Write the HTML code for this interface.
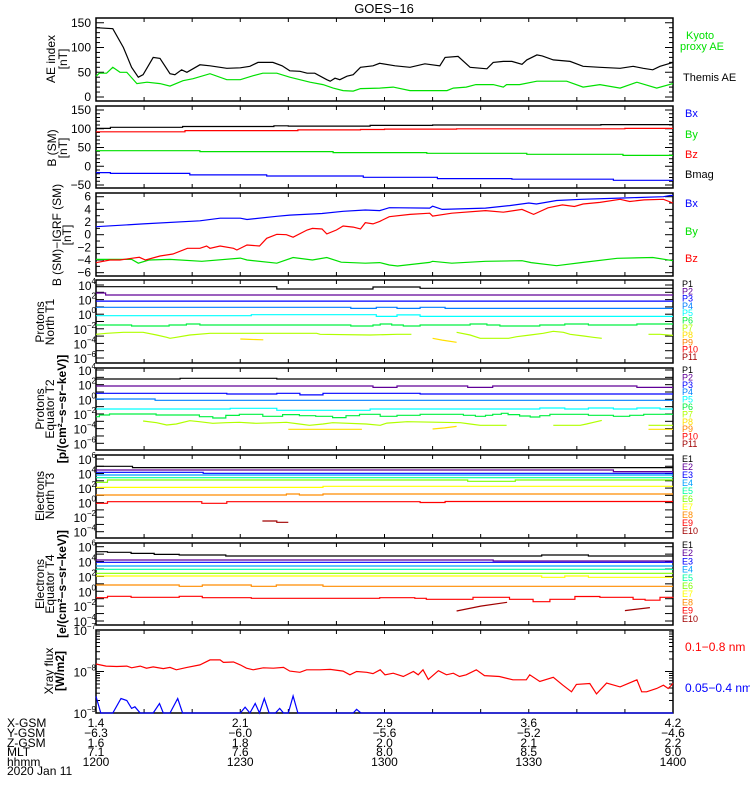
<!DOCTYPE html>
<html><head><meta charset="utf-8"><title>GOES-16</title>
<style>
html,body{margin:0;padding:0;background:#fff;}
svg{display:block;font-family:"Liberation Sans",sans-serif;}
</style></head>
<body>
<svg id="chart" width="750" height="800" viewBox="0 0 750 800" xmlns="http://www.w3.org/2000/svg">
<rect x="0" y="0" width="750" height="800" fill="#fff"/>
<text x="384" y="13" font-size="13" text-anchor="middle">GOES−16</text>
<g id="layer"></g>
</svg>
<script>
// ---------- data ----------
const aeTime=[0,3.5,5.7,7.4,8.8,9.8,11.9,13.3,15.4,16.4,17.8,18.9,21.6,23.7,25.8,27.2,30,32,33.7,36.8,38.7,40.3,42.4,43.9,45.5,48,48.7,49.7,50.7,52.2,53.5,55,57.6,59,62.2,65.3,68.4,71.5,72.6,75.3,77.8,81.3,82.6,84.7,86.5,88.6,89.6,91.7,92.8,95.1,98.6,101.3,104.8,109,111.7,113.8,115.8,117.3,120];
const themisAE=[140,138,100,60,40,45,80,78,47,45,55,50,65,63,60,58,59,62,70,70,63,53,52,48,48,35,32,38,35,42,45,60,63,68,63,60,67,63,80,82,60,57,70,72,72,66,75,85,83,75,72,62,60,58,62,58,55,62,70];
const kyotoTime=[0,0.7,2.2,3.5,5,6.4,8.5,10.6,13.3,15.4,18.1,20.2,23.7,27.2,30,32.7,34.7,37.6,40.3,44.5,47.2,49.3,51.4,53.5,55,59,61.8,65.3,73,74.3,77,79,82.6,84.7,85.4,88.1,91.7,97.9,101.3,104.8,109,112.5,116.6,120];
const kyotoAE=[42,48,48,60,50,50,27,30,27,22,33,37,47,35,35,43,48,48,40,30,25,18,13,12,17,18,20,13,13,18,20,25,25,20,25,25,32,32,20,25,18,30,18,27];

const bmagTime=[0,3,18,37,40,57,70,105,120];
const bmagVal=[101,104,106,108,107,109,110,111,111];
const bzSmTime=[0,18.5,42,55,60,75,110,120];
const bzSmVal=[92,95,97,98,99,100,101,101];
const bySmTime=[0,21.6,49.3,68.8,89.6,109.6,120];
const bySmVal=[41.5,39,36.5,34.5,32,29,29];
const bxSmTime=[0,3,19.5,35.5,55.6,71,86.5,107.6,120];
const bxSmVal=[-17,-19,-23,-26,-29.5,-33,-34.5,-37.5,-37.5];

const igBxTime=[0,9.8,21.6,25.8,30,31.4,37.6,40.3,47,51.4,56,59,61,69.4,70,72,81,86,90,91.6,95.8,101,109.6,118,119.4,120];
const igBxVal=[1.26,1.7,2.2,2.6,2.6,2.4,2.9,3.1,3.35,3.7,3.9,3.8,4.27,4.2,4.5,4.0,4.2,4.6,5.0,4.85,5.4,5.6,5.8,6.0,6.2,6.2];
const igBzTime=[0,2.9,5,7.4,9,10.3,13.3,16,19,21.6,23,23.7,25.8,28.6,29.3,31.4,34,35.5,37.6,39.6,41,43.9,45,47,48,50,51.4,53.5,55,56,57.6,59,61,65.3,69.4,70,74,81,84.7,88.6,91,94,97,99.5,101.3,104.8,109,111,114,118,120];
const igBzVal=[-4.42,-4.0,-4.0,-3.73,-3.57,-4.0,-3.36,-3.05,-2.15,-2.15,-1.79,-2.15,-1.79,-2.15,-2.42,-1.63,-1.79,-0.57,0.06,0,-0.4,0.74,0.99,0.9,0.12,0.74,1.37,1.2,0.9,1.9,1.7,2.1,2.84,3.2,3.4,2.94,3.4,3.8,3.55,4.0,3.2,4.25,4.7,4.45,4.85,5.1,5.6,5.25,5.5,5.6,5.0];
const igByTime=[0,7.4,8.8,11,15.4,22,30,31.4,37.6,41,45,48,51,56,59,61,62.7,69.4,70,74,81,88.6,90.5,95.8,101.3,108.4,115.8,120];
const igByVal=[-3.9,-3.9,-4.5,-4.0,-3.9,-4.2,-3.7,-4.0,-4.5,-3.6,-4.0,-3.6,-4.35,-4.5,-4.4,-4.79,-4.95,-4.37,-4.2,-4.5,-4.2,-4.1,-4.4,-4.9,-4.37,-3.73,-3.6,-4.1];

// Protons North T1 (log10 flux)
const t1p1Time=[0,37.6,57.6,67.4,120], t1p1Val=[3.77,3.45,3.73,3.55,3.55];
const t1p2Time=[0,2,120], t1p2Val=[2.9,2.63,2.63];
const t1p3Time=[0,120], t1p3Val=[1.8,1.8];
const t1p4Time=[0,53,58.3,62.6,67.4,72.6,120], t1p4Val=[0.95,0.8,0.95,0.8,0.95,0.8,0.8];
const t1p5Time=[0,32.3,58.3,62.6,67.4,120], t1p5Val=[-0.2,-0.07,-0.3,-0.1,-0.3,-0.3];
const t1p6Time=[0,7.4,15.2,18.8,21.6,53,57.6,59.1,61.5,63.9,67.4,77.8,81.3,84,92.3,97.5,102.4,112.5,120];
const t1p6Val=[-1.48,-1.62,-1.48,-1.34,-1.48,-1.62,-1.48,-1.34,-1.48,-1.62,-1.48,-1.34,-1.48,-1.62,-1.48,-1.34,-1.48,-1.34,-1.34];
const t1p7Time=[0,2.2,5.7,9.8,12.6,14.7,15.4,16.7,19.5,23.7,45.9,46.6,57,62.6,65.6,70,75,77.8,79.9,85.8,87.5,90.3,93,95.1,97.2,98.6,101.4,103.4,105.2,110,114.9,117.3,120];
const t1p7Val=[-2.76,-2.62,-2.48,-2.48,-2.85,-3.17,-3.3,-3.17,-2.85,-2.62,-2.62,-2.76,-2.85,-2.76,-2.76,null,-2.48,-2.85,-3.3,-3.3,-3.08,-2.85,-2.62,-2.34,-2.48,-2.76,-2.99,-3.17,-3.3,null,-2.76,-2.76,-2.9];
const t1p8Time=[30,32,34.8,50,70,72,75], t1p8Val=[-3.4,-3.45,-3.5,null,-3.3,-3.55,-3.85];

// Protons Equator T2
const t2p1Time=[0,17.5,37.6,120], t2p1Val=[2.77,2.87,2.77,2.77];
const t2p2Time=[0,57.6,62.6,77.3,82.5,112.5,120], t2p2Val=[1.82,1.63,1.82,1.63,1.82,1.63,1.63];
const t2p3Time=[0,27.2,37.6,42.4,47.2,67.4,120], t2p3Val=[0.82,0.72,0.82,0.6,0.82,0.72,0.72];
const t2p4Time=[0,12.3,120], t2p4Val=[0.04,-0.14,-0.14];
const t2p5Time=[0,27.9,37.6,57,92.3,97.5,102.4,107.6,112.5,117.3,120], t2p5Val=[-1.32,-1.23,-1.5,-1.32,-1.18,-1.32,-1.18,-1.32,-1.18,-1.32,-1.32];
const t2p6Time=[0,0.7,2.8,12.5,21.5,24.3,27,29.8,34.7,38.8,42.3,45.7,49.2,52,54.8,59.1,62.6,67.4,76.4,78.9,81,82.5,84.3,85.7,88.1,90.3,92.3,94.4,102.4,107.6,111,113.9,120];
const t2p6Val=[-2.37,-2.14,-2.0,-2.14,-2.37,-2.55,-2.2,-2.05,-2.32,-2.09,-2.23,-2.32,-2.5,-2.23,-2.05,-2.32,-2.18,-2.05,-2.18,-2.32,-2.18,-2.05,-1.91,-2.09,-2.27,-2.41,-2.23,-2.05,-2.18,-2.32,-2.18,-2.05,-2.05];
const t2p7Time=[9.8,12.6,14.7,16.7,19.5,21.5,24.3,27,29.8,33.3,37.6,39.6,42.3,44.4,47.2,49.2,56.2,59.1,60.5,64.7,75.8,77.8,79.9,85.4,90,95.1,100.7,102,103.5,105.2,110,114.9,120];
const t2p7Val=[-2.96,-3.19,-3.5,-3.37,-2.91,-3.05,-3.27,-3.19,-3.14,-3.27,-3.19,-3.14,-3.37,-3.55,-3.37,-3.19,-3.37,-3.55,-3.24,-3.05,-3.19,-3.37,-3.55,-3.55,null,-3.55,-3.55,-3.37,-3.14,-2.87,null,-3.55,-3.55];
const t2p8Time=[40,55.3,62,70,72.5,75,95,114.9,120], t2p8Val=[-4.09,-4.09,null,-4.05,-3.9,-3.7,null,-4.09,-4.09];

// Electrons North T3
const t3e1Time=[0,7.6,120], t3e1Val=[5.0,4.82,4.82];
const t3e2Time=[0,107.6,120], t3e2Val=[4.49,4.26,4.26];
const t3e3Time=[0,22.3,120], t3e3Val=[4.17,4.03,4.03];
const t3e4Time=[0,120], t3e4Val=[3.8,3.8];
const t3e5Time=[0,120], t3e5Val=[3.43,3.43];
const t3e6Time=[0,2.4,77.3,87.2,120], t3e6Val=[2.8,3.11,2.93,3.11,3.11];
const t3e7Time=[0,47.2,120], t3e7Val=[2.1,2.24,2.24];
const t3e8Time=[0,39.6,42.3,47.2,120], t3e8Val=[1.05,1.19,1.05,1.19,1.19];
const t3e9Time=[0,2.4,22,27.2,67.4,72.6,120], t3e9Val=[-0.1,0.12,-0.1,0.12,0.02,0.15,0.15];
const t3e10Time=[34.6,37.6,40], t3e10Val=[-2.53,-2.71,-2.71];

// Electrons Equator T4
const t4e1Time=[0,2.4,7.3,12.1,17.3,27,92.7,102.4,120], t4e1Val=[5.33,5.24,5.1,4.97,4.88,4.75,4.88,4.75,4.75];
const t4e2Time=[0,82.6,120], t4e2Val=[4.21,4.08,4.08];
const t4e3Time=[0,120], t4e3Val=[3.9,3.9];
const t4e4Time=[0,120], t4e4Val=[3.4,3.4];
const t4e5Time=[0,120], t4e5Val=[2.96,2.96];
const t4e6Time=[0,120], t4e6Val=[2.42,2.42];
const t4e7Time=[0,92.7,97.5,102.4,120], t4e7Val=[2.06,1.88,2.06,1.88,1.88];
const t4e8Time=[0,17.3,22.1,32.3,37.5,47.2,120], t4e8Val=[0.85,0.67,0.85,0.67,0.85,0.67,0.67];
const t4e9Time=[0,2.4,7.3,17.3,22.1,32.3,59,66.3,68.7,78.4,86,90.9,94.4,99.6,104.8,111.7,114.2,117.3,120];
const t4e9Val=[-0.86,-0.68,-0.81,-0.68,-0.86,-0.95,-0.86,-0.95,-1.08,-0.81,-1.08,-1.4,-1.08,-0.7,-0.81,-1.08,-1.2,-0.81,-0.75];
const t4e10Time=[75,80,85.5,90,110,115.2], t4e10Val=[-2.65,-2.0,-1.48,null,-2.6,-2.2];

// X-ray flux (log10 W/m2)
const xrLongTime=[0,2.1,4.3,6.4,7.4,9.2,10.5,11.9,14,15.4,16.7,18.9,21.6,23.7,25.8,26.5,28.6,30,31.3,32.7,34.8,36.9,39,40.3,42.4,43.8,46.6,48.7,51.4,52.8,54.2,56.3,57.6,59.1,60.1,61.8,63.9,66,67,68,69.1,71.2,72.9,74.3,75.6,77,79.1,80.8,83.9,86.7,89.5,90.2,92.3,95.1,97.1,98.9,99.9,102.7,104.1,106.2,109,112.5,113.5,114.5,116.6,118,119,120];
const xrLongVal=[-7.82,-7.87,-7.88,-7.87,-7.91,-7.87,-7.92,-7.89,-7.93,-7.90,-7.96,-7.90,-7.84,-7.72,-7.72,-7.78,-7.77,-7.84,-7.92,-7.96,-7.91,-7.92,-7.90,-7.99,-8.02,-7.96,-7.96,-7.95,-7.99,-8.08,-8.0,-8.02,-8.05,-7.96,-8.08,-8.04,-8.12,-8.0,-8.08,-7.96,-8.19,-7.98,-8.08,-8.04,-8.12,-8.08,-7.96,-8.1,-8.12,-8.2,-8.2,-8.08,-8.24,-8.14,-8.33,-8.49,-8.31,-8.29,-8.54,-8.28,-8.37,-8.2,-8.49,-8.49,-8.41,-8.33,-8.41,-8.29];
const xrShortTime=[0,1,3.5,5.2,6.4,7.4,8.1,9.2,11.9,13.2,14,15.4,17,18,30,31,32,33.1,34,35,36,37.3,38.2,39,40,41,42,53.5,54.2,55.1,120];
const xrShortVal=[-8.6,-9.1,-9.1,-8.65,-8.7,-8.89,-8.85,-9.1,-9.1,-8.77,-9.1,-9.1,-8.65,-9.1,-9.1,-8.86,-9.1,-8.77,-9.1,-8.65,-9.1,-9.1,-8.89,-9.1,-9.1,-8.59,-9.1,-9.1,-8.91,-9.1,-9.1];

// orbit annotation
const tickMinutes=[0,30,60,90,120];
const xgsmLabels=["1.4","2.1","2.9","3.6","4.2"];
const ygsmLabels=["−6.3","−6.0","−5.6","−5.2","−4.6"];
const zgsmLabels=["1.6","1.8","2.0","2.1","2.2"];
const mltLabels=["7.1","7.6","8.0","8.5","9.0"];
const hhmmLabels=["1200","1230","1300","1330","1400"];

// ---------- drawing ----------
const NS="http://www.w3.org/2000/svg";
const layer=document.getElementById('layer');
const X0=96, X1=673;
function xs(t){return X0+t*(X1-X0)/120;}
function mk(tag,attrs,parent){const e=document.createElementNS(NS,tag);for(const k in attrs)e.setAttribute(k,attrs[k]);(parent||layer).appendChild(e);return e;}

const panels={
  ae:{top:18,bot:101,y:v=>97-v*0.495},
  bsm:{top:106,bot:188,y:v=>185-(v+50)*0.375},
  ig:{top:193,bot:276,y:v=>234.7-v*6.33},
  t1:{top:280,bot:363,y:l=>285+(4-l)*7.3},
  t2:{top:368,bot:450,y:l=>370+(4-l)*7.33},
  t3:{top:455,bot:538,y:l=>459+(6-l)*7.27},
  t4:{top:543,bot:625,y:l=>546.7+(6-l)*7.43},
  xr:{top:630,bot:713,y:l=>630+(-7-l)*41.5}
};

function series(p,ts,vs,color,step,name){
  let d='',pen=false,py=0;
  for(let i=0;i<ts.length;i++){
    if(vs[i]===null){pen=false;continue;}
    const x=xs(ts[i]);
    const y=Math.max(p.top,Math.min(p.bot,p.y(vs[i])));
    if(!pen){d+='M'+x.toFixed(1)+' '+y.toFixed(1);pen=true;}
    else{ if(step) d+='L'+x.toFixed(1)+' '+py.toFixed(1); d+='L'+x.toFixed(1)+' '+y.toFixed(1);}
    py=y;
  }
  const e=mk('path',{d:d,fill:'none',stroke:color,'stroke-width':1.2});
  
  
}

function frame(p,name){
  const g=mk('g',{});
  
  
  mk('rect',{x:X0,y:p.top,width:X1-X0,height:p.bot-p.top,fill:'none',stroke:'#000','stroke-width':1.5},g);
  for(let t=10;t<120;t+=10){
    const x=xs(t);
    mk('line',{x1:x,y1:p.bot,x2:x,y2:p.bot-4,stroke:'#000','stroke-width':1},g);
    mk('line',{x1:x,y1:p.top,x2:x,y2:p.top+4,stroke:'#000','stroke-width':1},g);
  }
  return g;
}
function ytick(g,y,len){
  mk('line',{x1:X0,y1:y,x2:X0+len,y2:y,stroke:'#000','stroke-width':1},g);
  mk('line',{x1:X1,y1:y,x2:X1-len,y2:y,stroke:'#000','stroke-width':1},g);
}
function linTicks(p,g,lo,hi,major,minor,name){
  for(let v=lo;v<=hi+1e-9;v+=minor){
    const y=p.y(v); if(y<p.top-0.5||y>p.bot+0.5)continue;
    const isMaj=Math.abs(v/major-Math.round(v/major))<1e-6;
    ytick(g,y,isMaj?8:4);
    if(isMaj){
      const t=mk('text',{x:91,y:y+4,'font-size':12,'text-anchor':'end'},g);
      t.textContent=(v<0?'−':'')+Math.abs(v);
      
      
    }
  }
}
function logTicks(p,g,hiExp,loExp,step,name,minorLog){
  for(let e=hiExp;e>=loExp;e--){
    const y=p.y(e);
    ytick(g,y,8);
    if(minorLog && e>loExp){for(let m=2;m<=9;m++){const ym=p.y(e-1+Math.log10(m));ytick(g,ym,4);}}
    if((hiExp-e)%step===0){
      const t=mk('text',{x:96,y:y+5,'font-size':12,'text-anchor':'end'},g);
      
      
      t.appendChild(document.createTextNode('10'));
      const s=mk('tspan',{'font-size':8,dy:-6},t);
      s.textContent=(e<0?'−':'')+Math.abs(e);
    }
  }
}
function ylabel(lines,cy,xs0,name,bold){
  lines.forEach((s,i)=>{
    const t=mk('text',{transform:'translate('+xs0[i]+','+cy+') rotate(-90)','font-size':12,'text-anchor':'middle','font-weight':(bold&&i===lines.length-1)?'bold':'normal'});
    t.textContent=s;
    
    
  });
}
function legend(txt,x,y,color,size,name){
  const t=mk('text',{x:x,y:y,fill:color,'font-size':size});
  t.textContent=txt;
  
  
}

// Panel 1: AE
let g=frame(panels.ae,'ae-index-panel');
linTicks(panels.ae,g,0,150,50,10,'ae-y-axis');
series(panels.ae,kyotoTime,kyotoAE,'#00e000',false,'kyoto-ae-line');
series(panels.ae,aeTime,themisAE,'#000',false,'themis-ae-line');
ylabel(['AE index','[nT]'],59,[55,67],'ae-y-axis-title');
legend('Kyoto',686,39,'#00e000',11,'legend-kyoto');
legend('proxy AE',680,50,'#00e000',11,'legend-proxy-ae');
legend('Themis AE',683,81,'#000',11,'legend-themis-ae');

// Panel 2: B SM
g=frame(panels.bsm,'b-sm-panel');
linTicks(panels.bsm,g,-50,150,50,10,'b-sm-y-axis');
series(panels.bsm,bxSmTime,bxSmVal,'#0000ff',true,'bx-sm-line');
series(panels.bsm,bySmTime,bySmVal,'#00e000',true,'by-sm-line');
series(panels.bsm,bzSmTime,bzSmVal,'#ff0000',true,'bz-sm-line');
series(panels.bsm,bmagTime,bmagVal,'#000',true,'bmag-line');
ylabel(['B (SM)','[nT]'],148,[56,67],'b-sm-y-axis-title');
legend('Bx',685,117,'#0000ff',11,'legend-bx');
legend('By',685,138,'#00e000',11,'legend-by');
legend('Bz',685,158,'#ff0000',11,'legend-bz');
legend('Bmag',685,178,'#000',11,'legend-bmag');

// Panel 3: B - IGRF
g=frame(panels.ig,'b-igrf-panel');
linTicks(panels.ig,g,-6,6,2,1,'b-igrf-y-axis');
series(panels.ig,igBxTime,igBxVal,'#0000ff',false,'bx-igrf-line');
series(panels.ig,igByTime,igByVal,'#00e000',false,'by-igrf-line');
series(panels.ig,igBzTime,igBzVal,'#ff0000',false,'bz-igrf-line');
ylabel(['B (SM)−IGRF (SM)','[nT]'],235,[61,71],'b-igrf-y-axis-title');
legend('Bx',685,207,'#0000ff',11,'legend-igrf-bx');
legend('By',685,235,'#00e000',11,'legend-igrf-by');
legend('Bz',685,262,'#ff0000',11,'legend-igrf-bz');

const pCols=['#000','#600098','#0000ff','#0080ff','#00ffff','#00f040','#b0ff00','#ffe000','#ff8000','#ff0000','#a00000'];
const eCols=['#000','#600098','#0000ff','#00a0ff','#00ffa0','#80ff00','#ffff00','#ff8c00','#ff0000','#a00000'];

// Panel 4: Protons T1
g=frame(panels.t1,'protons-t1-panel');
logTicks(panels.t1,g,4,-6,2,'protons-t1-y-axis',false);
series(panels.t1,t1p1Time,t1p1Val,pCols[0],true,'t1-p1-line');
series(panels.t1,t1p2Time,t1p2Val,pCols[1],true,'t1-p2-line');
series(panels.t1,t1p3Time,t1p3Val,pCols[2],true,'t1-p3-line');
series(panels.t1,t1p4Time,t1p4Val,pCols[3],true,'t1-p4-line');
series(panels.t1,t1p5Time,t1p5Val,pCols[4],true,'t1-p5-line');
series(panels.t1,t1p6Time,t1p6Val,pCols[5],true,'t1-p6-line');
series(panels.t1,t1p7Time,t1p7Val,pCols[6],false,'t1-p7-line');
series(panels.t1,t1p8Time,t1p8Val,pCols[7],false,'t1-p8-line');
ylabel(['Protons','North T1'],322,[44,54],'protons-t1-y-axis-title');
for(let i=0;i<11;i++){legend('P'+(i+1),682,287+i*7.3,pCols[i],9,'legend-t1-p'+(i+1));}

// Panel 5: Protons T2
g=frame(panels.t2,'protons-t2-panel');
logTicks(panels.t2,g,4,-6,2,'protons-t2-y-axis',false);
series(panels.t2,t2p1Time,t2p1Val,pCols[0],true,'t2-p1-line');
series(panels.t2,t2p2Time,t2p2Val,pCols[1],true,'t2-p2-line');
series(panels.t2,t2p3Time,t2p3Val,pCols[2],true,'t2-p3-line');
series(panels.t2,t2p4Time,t2p4Val,pCols[3],true,'t2-p4-line');
series(panels.t2,t2p5Time,t2p5Val,pCols[4],true,'t2-p5-line');
series(panels.t2,t2p6Time,t2p6Val,pCols[5],true,'t2-p6-line');
series(panels.t2,t2p7Time,t2p7Val,pCols[6],false,'t2-p7-line');
series(panels.t2,t2p8Time,t2p8Val,pCols[7],false,'t2-p8-line');
ylabel(['Protons','Equator T2','[p/(cm²−s−sr−keV)]'],409,[44,54,66],'protons-t2-y-axis-title',true);
for(let i=0;i<11;i++){legend('P'+(i+1),682,373+i*7.4,pCols[i],9,'legend-t2-p'+(i+1));}

// Panel 6: Electrons T3
g=frame(panels.t3,'electrons-t3-panel');
logTicks(panels.t3,g,6,-4,2,'electrons-t3-y-axis',false);
const t3T=[t3e1Time,t3e2Time,t3e3Time,t3e4Time,t3e5Time,t3e6Time,t3e7Time,t3e8Time,t3e9Time,t3e10Time];
const t3V=[t3e1Val,t3e2Val,t3e3Val,t3e4Val,t3e5Val,t3e6Val,t3e7Val,t3e8Val,t3e9Val,t3e10Val];
for(let i=0;i<10;i++){series(panels.t3,t3T[i],t3V[i],eCols[i],true,'t3-e'+(i+1)+'-line');}
ylabel(['Electrons','North T3'],496,[44,54],'electrons-t3-y-axis-title');
for(let i=0;i<10;i++){legend('E'+(i+1),682,462+i*8,eCols[i],9,'legend-t3-e'+(i+1));}

// Panel 7: Electrons T4
g=frame(panels.t4,'electrons-t4-panel');
logTicks(panels.t4,g,6,-4,2,'electrons-t4-y-axis',false);
const t4T=[t4e1Time,t4e2Time,t4e3Time,t4e4Time,t4e5Time,t4e6Time,t4e7Time,t4e8Time,t4e9Time,t4e10Time];
const t4V=[t4e1Val,t4e2Val,t4e3Val,t4e4Val,t4e5Val,t4e6Val,t4e7Val,t4e8Val,t4e9Val,t4e10Val];
for(let i=0;i<10;i++){series(panels.t4,t4T[i],t4V[i],eCols[i],i<9,'t4-e'+(i+1)+'-line');}
ylabel(['Electrons','Equator T4','[e/(cm²−s−sr−keV)]'],584,[44,54,66],'electrons-t4-y-axis-title',true);
for(let i=0;i<10;i++){legend('E'+(i+1),682,548+i*8.2,eCols[i],9,'legend-t4-e'+(i+1));}

// Panel 8: X-ray
g=frame(panels.xr,'xray-panel');
logTicks(panels.xr,g,-7,-9,1,'xray-y-axis',true);
series(panels.xr,xrLongTime,xrLongVal,'#ff0000',false,'xray-long-line');
series(panels.xr,xrShortTime,xrShortVal,'#0000ff',false,'xray-short-line');
ylabel(['Xray flux','[W/m2]'],671,[53,64],'xray-y-axis-title',true);
legend('0.1−0.8 nm',685,651,'#ff0000',12,'legend-xray-long');
legend('0.05−0.4 nm',685,692,'#0000ff',12,'legend-xray-short');

// orbit annotation rows
const rowNames=['X-GSM','Y-GSM','Z-GSM','MLT','hhmm'];
const rowVals=[xgsmLabels,ygsmLabels,zgsmLabels,mltLabels,hhmmLabels];
const rowY=[727,737,747,756,766];
for(let r=0;r<5;r++){
  legend(rowNames[r],7,rowY[r],'#000',12,'row-label-'+rowNames[r].toLowerCase());
  for(let i=0;i<tickMinutes.length;i++){
    const t=mk('text',{x:xs(tickMinutes[i]),y:rowY[r],'font-size':12,'text-anchor':'middle'});
    t.textContent=rowVals[r][i];
    
    
  }
}
legend('2020 Jan 11',7,775,'#000',12,'date-label');
</script>
</body></html>
